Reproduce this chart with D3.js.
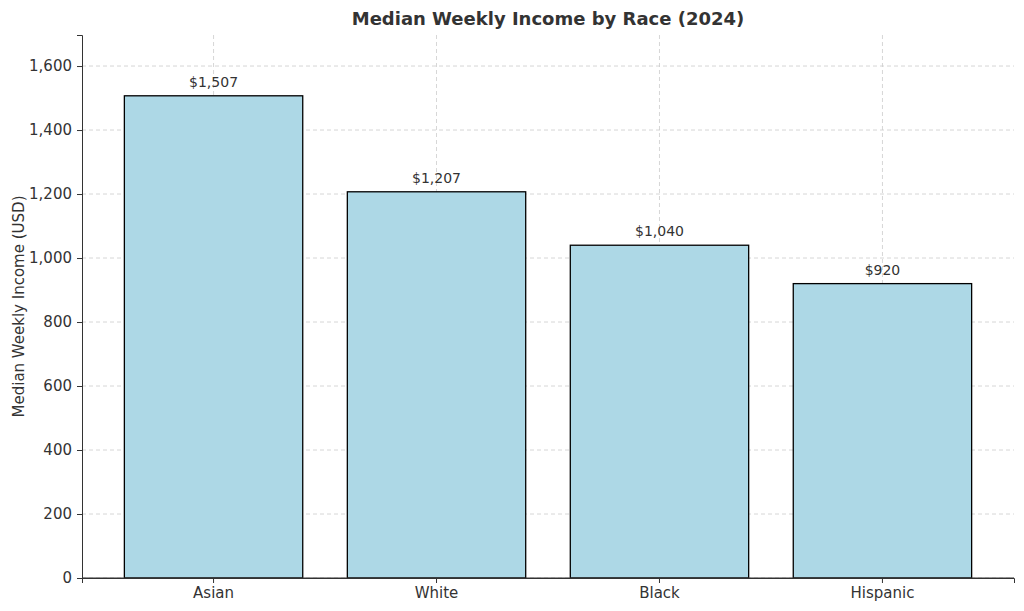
<!DOCTYPE html>
<html>
<head>
<meta charset="utf-8">
<script src="https://cdn.jsdelivr.net/npm/d3@7"></script>
<style>
  body { margin: 0; background: #fff; }
  text { font-family: "DejaVu Sans", sans-serif; fill: #333; }
</style>
</head>
<body>
<svg id="chart" width="1024" height="611"></svg>
<script>
let races = ['Asian', 'White', 'Black', 'Hispanic'];
let incomes = [1507, 1207, 1040, 920];
let yTicks = [0, 200, 400, 600, 800, 1000, 1200, 1400, 1600];

let svg = d3.select('#chart');
let plotLeft = 82, plotRight = 1014, plotTop = 35, plotBottom = 578;

let x = d3.scaleBand().domain(races).range([plotLeft, plotRight]).paddingInner(0.2).paddingOuter(0.19);
let y = d3.scaleLinear().domain([0, 1697]).range([plotBottom, plotTop]);

// grid
svg.append('g').selectAll('line').data(yTicks).enter().append('line')
  .attr('x1', plotLeft).attr('x2', plotRight)
  .attr('y1', d => y(d)).attr('y2', d => y(d))
  .attr('stroke', '#ccc').attr('stroke-dasharray', '4,3').attr('stroke-width', 0.8);
svg.append('g').selectAll('line').data(races).enter().append('line')
  .attr('x1', d => x(d) + x.bandwidth() / 2).attr('x2', d => x(d) + x.bandwidth() / 2)
  .attr('y1', plotTop).attr('y2', plotBottom)
  .attr('stroke', '#ccc').attr('stroke-dasharray', '4,3').attr('stroke-width', 0.8);

// bars
svg.append('g').selectAll('rect').data(incomes).enter().append('rect')
  .attr('x', (d, i) => x(races[i]))
  .attr('y', d => y(d))
  .attr('width', x.bandwidth())
  .attr('height', d => plotBottom - y(d))
  .attr('fill', '#add8e6').attr('stroke', '#000').attr('stroke-width', 1.3);

svg.append('g').selectAll('text').data(incomes).enter().append('text')
  .attr('x', (d, i) => x(races[i]) + x.bandwidth() / 2)
  .attr('y', d => y(d) - 9)
  .attr('text-anchor', 'middle').style('font-size', '14px')
  .text(d => '$' + d3.format(',')(d));

// axes
let yAxis = svg.append('g').attr('transform', `translate(${plotLeft},0)`)
  .call(d3.axisLeft(y).tickValues(yTicks).tickSize(5).tickPadding(5));
let xAxis = svg.append('g').attr('transform', `translate(0,${plotBottom})`)
  .call(d3.axisBottom(x).tickSize(5).tickPadding(4));
[xAxis, yAxis].forEach(a => {
  a.selectAll('text').style('font-size', '15px').style('font-family', '"DejaVu Sans", sans-serif').attr('fill', '#333');
  a.selectAll('line').attr('stroke', '#333');
  a.select('.domain').attr('stroke', '#333');
});
svg.append('line').attr('x1', plotLeft).attr('x2', plotRight).attr('y1', plotBottom).attr('y2', plotBottom).attr('stroke', '#333');

svg.append('text').attr('x', 548).attr('y', 25).attr('text-anchor', 'middle')
  .style('font-size', '18px').style('font-weight', 'bold').text('Median Weekly Income by Race (2024)');
svg.append('text').attr('transform', `translate(24,${(plotTop + plotBottom) / 2}) rotate(-90)`)
  .attr('text-anchor', 'middle').style('font-size', '15px').text('Median Weekly Income (USD)');
</script>
</body>
</html>
